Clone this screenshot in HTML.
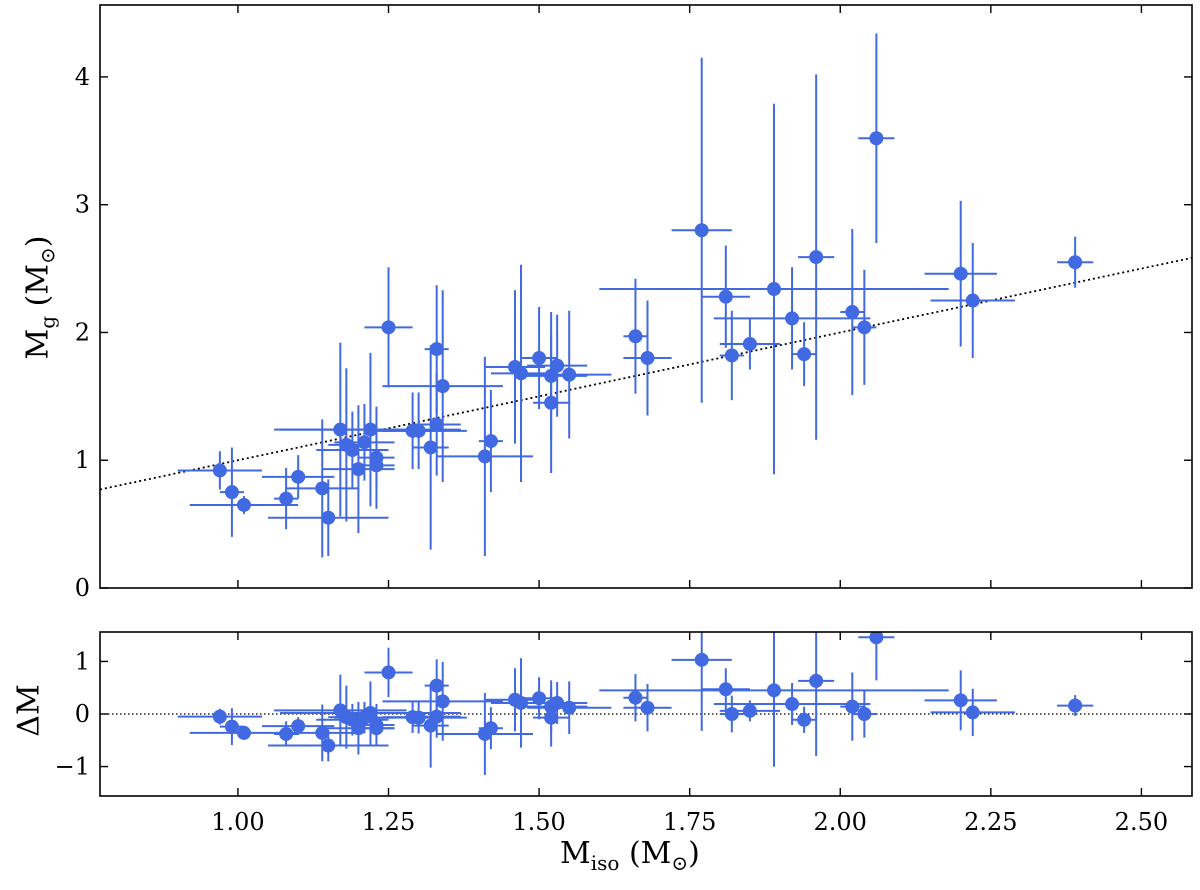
<!DOCTYPE html>
<html><head><meta charset="utf-8"><style>
body{margin:0;background:#fff}
svg text{font-family:"DejaVu Serif","Liberation Serif",serif;fill:#000}
</style></head><body>
<svg id="c" width="1200" height="885" xmlns="http://www.w3.org/2000/svg"></svg>
<script>
const misoVals=[0.97,0.99,1.01,1.08,1.10,1.14,1.15,1.17,1.18,1.19,1.20,1.21,1.22,1.23,1.23,1.25,1.29,1.30,1.32,1.33,1.33,1.34,1.41,1.42,1.46,1.47,1.50,1.52,1.52,1.53,1.55,1.66,1.68,1.77,1.81,1.82,1.85,1.89,1.92,1.94,1.96,2.02,2.04,2.06,2.20,2.22,2.39];
const mgVals=[0.92,0.75,0.65,0.70,0.87,0.78,0.55,1.24,1.12,1.08,0.93,1.14,1.24,1.02,0.96,2.04,1.23,1.23,1.10,1.87,1.28,1.58,1.03,1.15,1.73,1.68,1.80,1.66,1.45,1.74,1.67,1.97,1.80,2.80,2.28,1.82,1.91,2.34,2.11,1.83,2.59,2.16,2.04,3.52,2.46,2.25,2.55];
const misoErr=[0.07,0.02,0.09,0.02,0.06,0.06,0.10,0.11,0.03,0.06,0.06,0.05,0.15,0.03,0.03,0.04,0.05,0.08,0.03,0.02,0.04,0.10,0.08,0.02,0.05,0.05,0.03,0.06,0.03,0.05,0.07,0.02,0.04,0.05,0.04,0.02,0.05,0.29,0.13,0.02,0.03,0.02,0.02,0.03,0.06,0.07,0.03];
const mgErr=[0.15,0.35,0.07,0.24,0.17,0.54,0.30,0.68,0.60,0.30,0.50,0.30,0.60,0.40,0.20,0.47,0.30,0.30,0.80,0.50,0.40,0.75,0.78,0.40,0.60,0.85,0.40,0.50,0.55,0.40,0.50,0.45,0.45,1.35,0.40,0.35,0.20,1.45,0.40,0.25,1.43,0.65,0.45,0.82,0.57,0.45,0.20];
const xTicks=[1.00,1.25,1.50,1.75,2.00,2.25,2.50];
const yTicksTop=[0,1,2,3,4];
const yTicksBot=[-1,0,1];

const svg=document.getElementById('c');const NS='http://www.w3.org/2000/svg';
function mk(t,a,p){const e=document.createElementNS(NS,t);for(const k in a)e.setAttribute(k,a[k]);(p||svg).appendChild(e);return e;}
const X0=100,X1=1192,xmin=0.771,xmax=2.584;
const xs=v=>X0+(v-xmin)/(xmax-xmin)*(X1-X0);
const T={y0:5,y1:588,min:0,max:4.563};
const B={y0:632,y1:796,min:-1.56,max:1.56};
const ys=(P,v)=>P.y1-(v-P.min)/(P.max-P.min)*(P.y1-P.y0);
const blue='#4169e1';
function panel(P,name,yTicks,fmt,yv,showX){
  const g=mk('g',{});
  const cp='cp'+name;const d=mk('clipPath',{id:cp},g);mk('rect',{x:X0,y:P.y0,width:X1-X0,height:P.y1-P.y0},d);
  const pl=mk('g',{'clip-path':'url(#'+cp+')'},g);
  const ln=name==='top-panel'?mk('line',{x1:X0,y1:ys(P,xmin),x2:X1,y2:ys(P,xmax),stroke:'#000','stroke-width':1.8,'stroke-dasharray':'2,3'},pl):mk('line',{x1:X0,y1:ys(P,0),x2:X1,y2:ys(P,0),stroke:'#000','stroke-width':1.2,'stroke-dasharray':'1.5,2.5'},pl);
  
  misoVals.forEach((x,i)=>{
    const y=yv(i);const cx=xs(x),cy=ys(P,y);
    const pg=mk('g',{},pl);
    
    
    mk('line',{x1:xs(x-misoErr[i]),x2:xs(x+misoErr[i]),y1:cy,y2:cy,stroke:blue,'stroke-width':2},pg);
    mk('line',{x1:cx,x2:cx,y1:ys(P,y-mgErr[i]),y2:ys(P,y+mgErr[i]),stroke:blue,'stroke-width':2},pg);
    mk('circle',{cx:cx,cy:cy,r:7,fill:blue},pg);
  });
  const fr=mk('rect',{x:X0,y:P.y0,width:X1-X0,height:P.y1-P.y0,fill:'none',stroke:'#000','stroke-width':1.6},g);
  
  yTicks.forEach(t=>{const y=ys(P,t);
    mk('line',{x1:X0,x2:X0+8,y1:y,y2:y,stroke:'#000','stroke-width':1.4},g);
    mk('line',{x1:X1,x2:X1-8,y1:y,y2:y,stroke:'#000','stroke-width':1.4},g);
    const tx=mk('text',{x:X0-10,y:y+8,'text-anchor':'end','font-size':24},g);tx.textContent=fmt(t);
    });
  xTicks.forEach(t=>{const x=xs(t);
    mk('line',{x1:x,x2:x,y1:P.y1,y2:P.y1-8,stroke:'#000','stroke-width':1.4},g);
    mk('line',{x1:x,x2:x,y1:P.y0,y2:P.y0+8,stroke:'#000','stroke-width':1.4},g);
    if(showX){const tx=mk('text',{x:x,y:P.y1+34,'text-anchor':'middle','font-size':24},g);tx.textContent=t.toFixed(2);
    }});
}
panel(T,'top-panel',yTicksTop,t=>String(t),i=>mgVals[i],false);
panel(B,'residual-panel',yTicksBot,t=>t<0?'\u2212'+(-t):String(t),i=>mgVals[i]-misoVals[i],true);
</script>
<div style="position:absolute;left:0;top:0;width:1200px;height:885px;pointer-events:none;font-family:'DejaVu Serif','Liberation Serif',serif">
<div style="position:absolute;left:-50px;top:278px;width:180px;text-align:center;transform:rotate(-90deg);font-size:30px">M<sub style="font-size:20px">g</sub> (M<sub style="font-size:20px">⊙</sub>)</div>
<div style="position:absolute;left:-16px;top:693px;width:90px;text-align:center;transform:rotate(-90deg);font-size:30px">ΔM</div>
<div style="position:absolute;left:560px;top:836px;width:220px;font-size:30px">M<sub style="font-size:20px">iso</sub> (M<sub style="font-size:20px">⊙</sub>)</div>
</div>
</body></html>
